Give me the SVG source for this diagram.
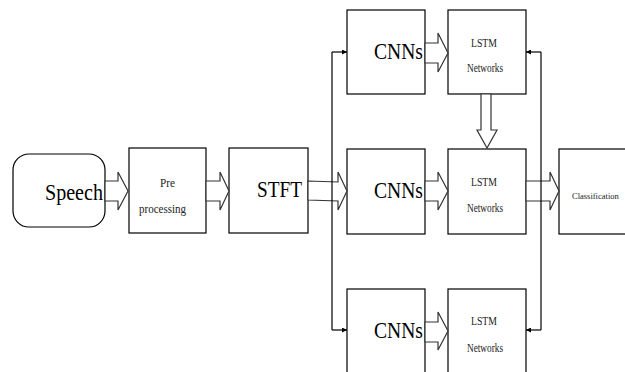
<svg xmlns="http://www.w3.org/2000/svg" width="625" height="372" viewBox="0 0 625 372">
<style>
.box{fill:#fff;stroke:#000;stroke-width:1.2}
.blk{fill:#fff;stroke:#333;stroke-width:1.2}
.ln{fill:none;stroke:#000;stroke-width:1.2}
.big{font-family:"Liberation Serif","Times New Roman",serif;font-size:24px;fill:#000}
.sm{font-family:"Liberation Serif","Times New Roman",serif;font-size:12px;fill:#222}
.xs{font-family:"Liberation Serif","Times New Roman",serif;font-size:8.5px;fill:#222}
</style>
<defs>
<marker id="ah" viewBox="0 0 10 10" refX="10" refY="5" markerWidth="5" markerHeight="5" orient="auto" markerUnits="userSpaceOnUse">
<path d="M0,0 L10,5 L0,10 z" fill="#000"/>
</marker>
</defs>
<g id="speech"><rect class="box" x="13" y="154" width="92" height="73" rx="16" ry="16"/><text class="big" x="45" y="200" textLength="58" lengthAdjust="spacingAndGlyphs">Speech</text></g>
<g id="pre"><rect class="box" x="129" y="148" width="77" height="85"/><text class="sm" x="160" y="187" textLength="15" lengthAdjust="spacingAndGlyphs">Pre</text><text class="sm" x="139" y="213" textLength="47" lengthAdjust="spacingAndGlyphs">processing</text></g>
<g id="stft"><rect class="box" x="229" y="148" width="79" height="85"/><text class="big" x="257" y="197" textLength="45" lengthAdjust="spacingAndGlyphs">STFT</text></g>
<g id="cnn1"><rect class="box" x="347" y="10" width="78" height="84"/><text class="big" x="374" y="59" textLength="49" lengthAdjust="spacingAndGlyphs">CNNs</text></g>
<g id="lstm1"><rect class="box" x="448" y="10" width="78" height="84"/><text class="sm" x="471" y="47" textLength="26" lengthAdjust="spacingAndGlyphs">LSTM</text><text class="sm" x="467" y="72" textLength="36" lengthAdjust="spacingAndGlyphs">Networks</text></g>
<g id="cnn2"><rect class="box" x="347" y="149" width="78" height="85"/><text class="big" x="374" y="198" textLength="49" lengthAdjust="spacingAndGlyphs">CNNs</text></g>
<g id="lstm2"><rect class="box" x="448" y="149" width="78" height="85"/><text class="sm" x="471" y="186" textLength="26" lengthAdjust="spacingAndGlyphs">LSTM</text><text class="sm" x="467" y="212" textLength="36" lengthAdjust="spacingAndGlyphs">Networks</text></g>
<g id="cnn3"><rect class="box" x="347" y="289" width="78" height="95"/><text class="big" x="374" y="338" textLength="49" lengthAdjust="spacingAndGlyphs">CNNs</text></g>
<g id="lstm3"><rect class="box" x="448" y="289" width="78" height="95"/><text class="sm" x="471" y="325" textLength="26" lengthAdjust="spacingAndGlyphs">LSTM</text><text class="sm" x="467" y="352" textLength="36" lengthAdjust="spacingAndGlyphs">Networks</text></g>
<g id="classification"><rect class="box" x="559" y="149" width="80" height="85"/><text class="xs" x="572" y="199">Classification</text></g>
<g id="connectors">
<polygon class="blk" points="105,181 118,181 118,172 128,191 118,210 118,201 105,201"/>
<polygon class="blk" points="206,181 220,181 220,172 229,191 220,210 220,201 206,201"/>
<polygon class="blk" points="308,181 338,182 338,172 347,191 338,210 338,201 308,200"/>
<polygon class="blk" points="425,43 438,43 438,33 448,53 438,72 438,63 425,63"/>
<polygon class="blk" points="425,181 438,181 438,172 448,191 438,210 438,201 425,201"/>
<polygon class="blk" points="425,322 438,322 438,312 448,331 438,350 438,342 425,342"/>
<polygon class="blk" points="526,181 550,181 550,172 559,191 550,210 550,201 526,201"/>
<polygon class="blk" points="481,94 481,130 477,130 487,148 497,130 491,130 491,94"/>
<path class="ln" d="M332,52 V330"/>
<path class="ln" d="M332,52 H347" marker-end="url(#ah)"/>
<path class="ln" d="M332,330 H347" marker-end="url(#ah)"/>
<path class="ln" d="M541,52 V330"/>
<path class="ln" d="M541,52 H526" marker-end="url(#ah)"/>
<path class="ln" d="M541,330 H526" marker-end="url(#ah)"/>
</g>
</svg>
